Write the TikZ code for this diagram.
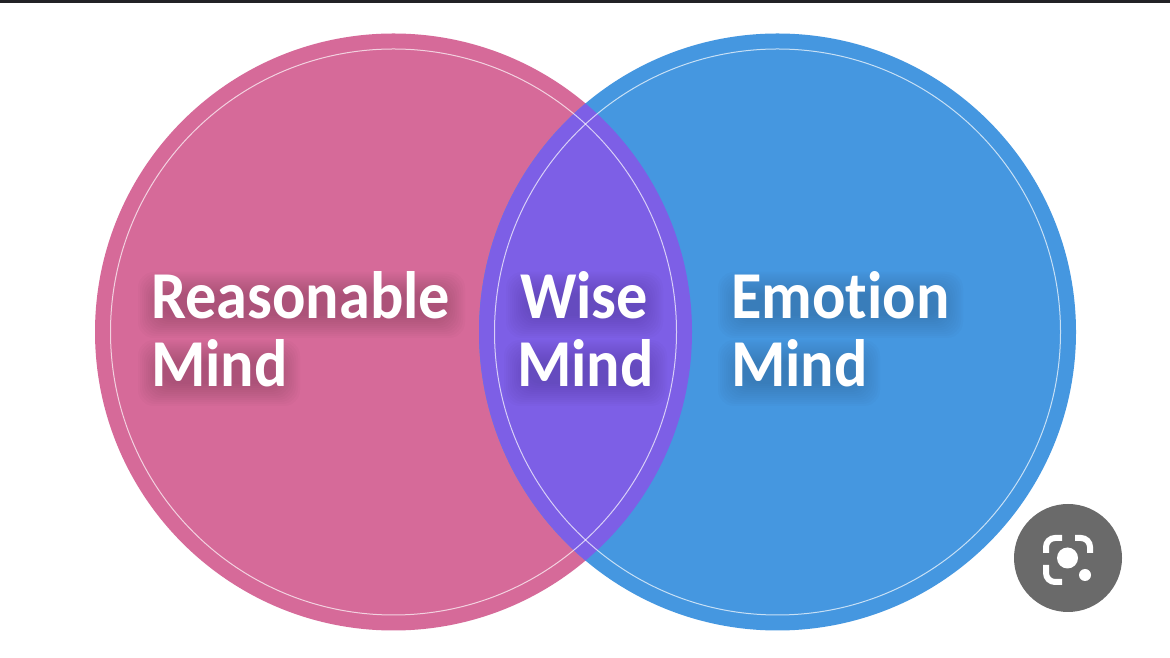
\documentclass[tikz,border=0pt]{standalone}
\usepackage{fontspec}
\setmainfont[FakeStretch=0.93,Ligatures=NoCommon]{Carlito}
\usetikzlibrary{calc}
\definecolor{pinkc}{HTML}{D66A99}
\definecolor{bluec}{HTML}{4597E0}
\definecolor{purplec}{HTML}{7D5FE6}
\definecolor{barc}{HTML}{222226}
\definecolor{lensc}{HTML}{6A6A6A}
\tikzset{
  x=1pt,y=1pt,
  disc/.style={circle,inner sep=0pt,minimum size=597pt,outer sep=0pt},
  ringline/.style={circle,inner sep=0pt,minimum size=566pt,draw=white,draw opacity=.7,line width=1pt},
  word/.style={anchor=base west,inner sep=0pt,text=white,font=\fontsize{67}{67}\selectfont\bfseries},
  lensdot/.style={circle,fill=white,inner sep=0pt},
  bracket/.style={draw=white,line width=6pt,rounded corners=9pt}
}
\newcommand{\halo}[5]{% x0 y0 x1 y1 (ref px, y downward) colour
  \foreach \g in {15,13,11,9,7,5,3,1,-1,-3,-5,-7}{
    \fill[#5,opacity=.024,rounded corners=16pt]
      (#1-\g,658-#2+\g-5) rectangle (#3+\g,658-#4-\g-5);
  }
}
\begin{document}
\begin{tikzpicture}
\useasboundingbox (0,0) rectangle (1170,658);
\fill[white] (0,0) rectangle (1170,658);
\fill[barc] (0,655) rectangle (1170,658);
\coordinate (lc) at (393.5,326);
\coordinate (rc) at (777.5,326);
\node[disc,fill=pinkc] (left) at (lc) {};
\node[disc,fill=bluec] (right) at (rc) {};
\begin{scope}
  \clip (lc) circle (298.5);
  \fill[purplec] (rc) circle (298.5);
\end{scope}
\node[ringline] (leftring) at (lc) {};
\node[ringline] (rightring) at (rc) {};

\halo{153}{282}{450}{318}{black!70!pinkc}
\halo{153}{350}{285}{386}{black!70!pinkc}
\halo{521}{282}{648}{318}{black!60!purplec}
\halo{519}{350}{652}{386}{black!60!purplec}
\halo{733}{282}{948}{318}{black!60!bluec}
\halo{733}{350}{865}{386}{black!60!bluec}

\node[word] (t1) at (151,339.5) {Reasonable};
\node[word] (t2) at (151,271.5) {Mind};
\node[word] (t3) at (520,339.5) {Wise};
\node[word] (t4) at (517,271.5) {Mind};
\node[word] (t5) at (731,339.5) {Emotion};
\node[word] (t6) at (731,271.5) {Mind};

\node[circle,fill=lensc,inner sep=0pt,minimum size=108pt] (lens) at (1068,100) {};
\node[lensdot,minimum size=21pt] (lensa) at (1067.5,100) {};
\node[lensdot,minimum size=12pt] (lensb) at (1085,83) {};
\draw[bracket] (1046,105) |- (1062,120);
\draw[bracket] (1075,120) -| (1090,105);
\draw[bracket] (1046,93) |- (1062,76);
\end{tikzpicture}
\end{document}
